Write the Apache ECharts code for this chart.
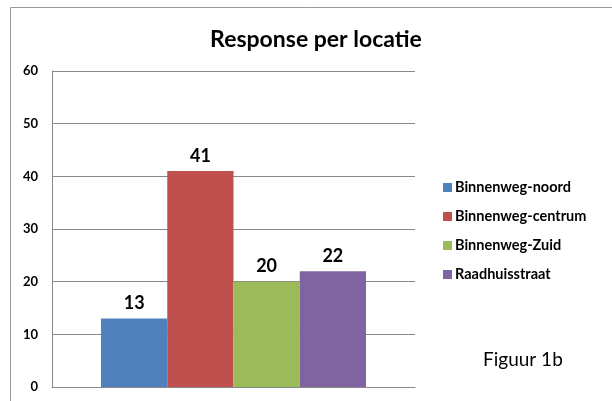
<!DOCTYPE html>
<html lang="nl">
<head>
    <meta charset="UTF-8">
    <title>Response per locatie</title>
    <style>
        html, body { margin: 0; padding: 0; background: #fff; }
        #main { width: 612px; height: 401px; }
    </style>
</head>
<body>
<div id="main"></div>
<script src="https://cdn.jsdelivr.net/npm/echarts@6/dist/echarts.min.js"></script>
<script>
    // data
    var locaties = ['Binnenweg-noord', 'Binnenweg-centrum', 'Binnenweg-Zuid', 'Raadhuisstraat'];
    var responses = [13, 41, 20, 22];
    var kleuren = ['#4F81BD', '#C0504D', '#9BBB59', '#8064A2'];
    var yTicks = [0, 10, 20, 30, 40, 50, 60];

    var font = 'Lato, "Open Sans", sans-serif';

    var series = [];
    for (var i = 0; i < locaties.length; i++) {
        series.push({
            name: locaties[i],
            type: 'bar',
            data: [responses[i]],
            itemStyle: {color: kleuren[i]},
            barGap: '0%',
            barCategoryGap: '27%',
            label: {
                show: true,
                position: 'top',
                distance: 6,
                color: '#000',
                fontFamily: font,
                fontWeight: 'bold',
                fontSize: 18
            }
        });
    }

    var myChart = echarts.init(document.getElementById('main'));
    var option = {
        animation: false,
        title: {
            text: 'Response per locatie',
            left: 311,
            textAlign: 'center',
            top: 23,
            textStyle: {fontFamily: font, fontWeight: 'bold', fontSize: 23, color: '#000'}
        },
        legend: {
            data: locaties,
            orient: 'vertical',
            left: 438,
            top: 175,
            icon: 'rect',
            itemWidth: 9,
            itemHeight: 9,
            itemGap: 14,
            textStyle: {fontFamily: font, fontWeight: 'bold', fontSize: 14.5, color: '#000', padding: [0, 0, 0, -2]}
        },
        grid: {left: 52, right: 197, top: 71, bottom: 14},
        xAxis: {
            type: 'category',
            data: [''],
            axisTick: {show: false},
            axisLabel: {show: false},
            axisLine: {lineStyle: {color: '#888', width: 1}}
        },
        yAxis: {
            type: 'value',
            min: yTicks[0],
            max: yTicks[yTicks.length - 1],
            interval: 10,
            axisLine: {show: true, lineStyle: {color: '#888', width: 1}},
            axisTick: {show: false},
            axisLabel: {
                margin: 14,
                color: '#000',
                fontFamily: font,
                fontWeight: 'bold',
                fontSize: 13
            },
            splitLine: {lineStyle: {color: '#888', width: 1}}
        },
        graphic: [
            {
                type: 'polyline',
                shape: {points: [[10.5, 401], [10.5, 7.5], [612, 7.5]]},
                style: {stroke: '#999', lineWidth: 1, fill: null}
            },
            {
                type: 'text',
                left: 483,
                top: 350,
                style: {text: 'Figuur 1b', fontFamily: font, fontSize: 19, fill: '#000'}
            }
        ],
        series: series
    };
    myChart.setOption(option);
</script>
</body>
</html>
